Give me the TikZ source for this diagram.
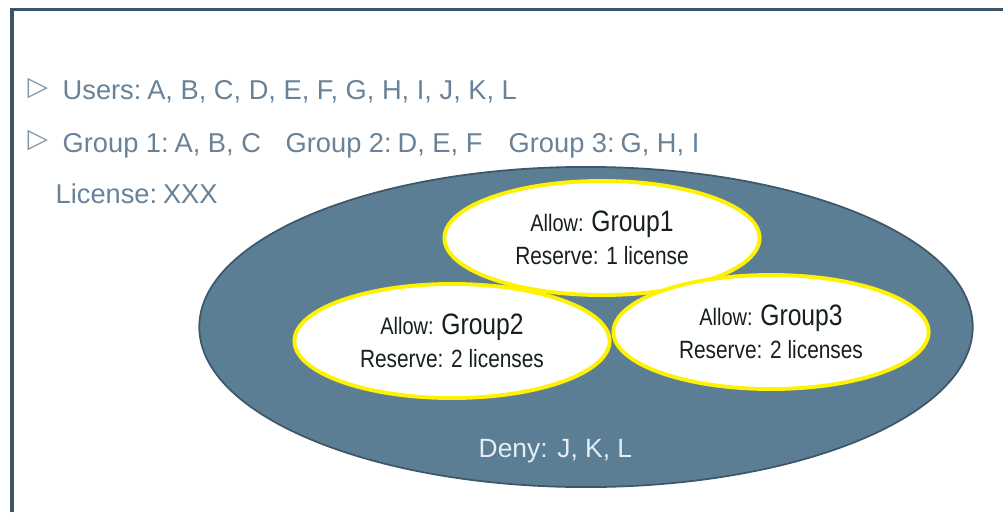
\documentclass[tikz,border=0pt]{standalone}
\usepackage{fontspec}
\setmainfont{Liberation Sans}
\newfontfamily\narrowsans[FakeStretch=0.835]{Liberation Sans}
\newfontfamily\symfont{DejaVu Sans}
\usetikzlibrary{shapes.geometric}
\definecolor{framegray}{RGB}{60,84,101}
\definecolor{poolblue}{RGB}{91,126,148}
\definecolor{pooledge}{RGB}{62,88,106}
\definecolor{headtext}{RGB}{105,130,152}
\definecolor{bulletgray}{RGB}{128,150,166}
\definecolor{denytext}{RGB}{228,238,245}
\definecolor{innertext}{RGB}{22,32,28}
\newcommand{\allowsz}{\fontsize{6.8}{9.5}\selectfont}
\newcommand{\groupsz}{\fontsize{8.4}{9.5}\selectfont}

\begin{document}
\begin{tikzpicture}[x=0.01cm, y=-0.01cm, every node/.style={inner sep=0pt},
	headline/.style={anchor=base west, text=headtext, font=\fontsize{7.75}{9}\selectfont},
	tri/.style={text=bulletgray, font=\symfont\fontsize{7.6}{9}\selectfont},
	pool/.style={ellipse, draw=pooledge, line width=0.5pt, fill=poolblue, minimum width=7.73cm, minimum height=3.2cm},
	grp/.style={ellipse, draw=yellow, line width=1.1pt, fill=white, minimum width=3.15cm, minimum height=1.14cm, align=center, text=innertext, font=\narrowsans\fontsize{7.1}{9.5}\selectfont}]
	\useasboundingbox (0,0) rectangle (1003,512);
	\draw[framegray, line width=1.1pt] (12,512) |- (1003,9.5);
	\node[tri] (tri1) at (38,89) {▷};
	\node[tri] (tri2) at (38,141) {▷};
	\node[headline] (users) at (62,100) {Users:\hspace{-1.2pt} A, B, C, D, E, F, G, H, I, J, K, L};
	\node[headline] (grp1list) at (62,152) {Group 1:\hspace{-1.2pt} A, B, C};
	\node[headline] (grp2list) at (285,152) {Group 2:\hspace{-1.2pt} D, E, F};
	\node[headline] (grp3list) at (508,152) {Group 3:\hspace{-1.2pt} G, H, I};
	\node[headline] (license) at (55,203) {License:\hspace{-1.2pt} XXX};
	\node[pool] (pool) at (586,327) {};
	\node[grp] (grp1) at (602,238) {{\allowsz Allow:} {\groupsz Group1}\\Reserve: 1 license};
	\node[grp] (grp2) at (452,341) {{\allowsz Allow:} {\groupsz Group2}\\Reserve: 2 licenses};
	\node[grp] (grp3) at (771,332) {{\allowsz Allow:} {\groupsz Group3}\\Reserve: 2 licenses};
	\node[anchor=base west, text=denytext, font=\fontsize{7.5}{9}\selectfont] (deny) at (478,457) {Deny: J, K, L};
\end{tikzpicture}
\end{document}
